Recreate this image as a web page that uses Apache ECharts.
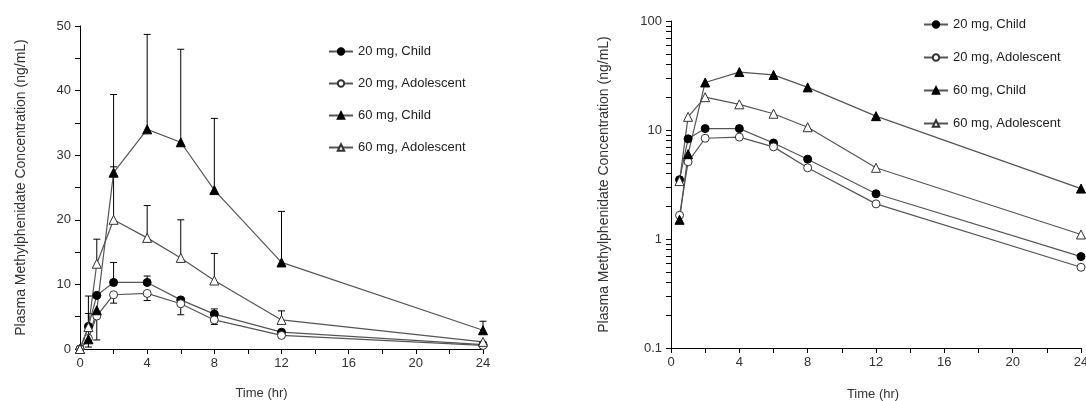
<!DOCTYPE html>
<html>
<head>
  <meta charset="utf-8">
  <title>Methylphenidate concentration</title>
  <script src="https://cdn.jsdelivr.net/npm/echarts@6/dist/echarts.min.js"></script>
  <style>
    html, body { margin: 0; padding: 0; background: #fff; }
  </style>
</head>
<body>
  <div id="main" style="width: 1086px;height:401px;"></div>

  <script>
    // sampling times (hr)
    const times = [0, 0.5, 1, 2, 4, 6, 8, 12, 24];

    // mean concentrations (ng/mL)
    const child20 = [0, 3.5, 8.3, 10.3, 10.3, 7.6, 5.4, 2.6, 0.69];
    const adol20  = [0, 1.65, 5.1, 8.4, 8.6, 7.0, 4.5, 2.1, 0.55];
    const child60 = [0, 1.5, 6.0, 27.3, 34.0, 32.0, 24.6, 13.4, 2.9];
    const adol60  = [0, 3.4, 13.2, 20.0, 17.2, 14.1, 10.6, 4.5, 1.1];

    // error bar ends (left chart only), null = no bar drawn
    const child20Bar = [null, 8.2, null, 13.4, 11.3, null, 6.2, null, null];
    const adol20Bar  = [null, 0.3, 1.4, 7.1, 7.5, 5.3, 3.8, null, null];
    const child60Bar = [null, 5.5, null, 39.4, 48.7, 46.4, 35.7, 21.3, 4.3];
    const adol60Bar  = [null, null, 17.0, 28.2, 22.2, 20.0, 14.8, 5.9, null];

    const names = ["20 mg, Child", "20 mg, Adolescent", "60 mg, Child", "60 mg, Adolescent"];

    // tick labels
    const linYLabels = [0, 10, 20, 30, 40, 50];
    const xLabels = [0, 4, 8, 12, 16, 20, 24];
    const logTicks = [0.1, 0.2, 0.3, 0.4, 0.5, 0.6, 0.7, 0.8, 0.9,
                      1, 2, 3, 4, 5, 6, 7, 8, 9,
                      10, 20, 30, 40, 50, 60, 70, 80, 90, 100];
    const logLabels = [0.1, 1, 10, 100];

    const FONT = "Liberation Sans, Arial, sans-serif";
    const seriesVals = [child20, adol20, child60, adol60];
    const seriesBars = [child20Bar, adol20Bar, child60Bar, adol60Bar];
    const symbols = ["circle", "circle", "triangle", "triangle"];
    const filled = [true, false, true, false];

    function lineSeries(i, axisIdx, from) {
      return {
        name: names[i],
        type: "line",
        xAxisIndex: axisIdx,
        yAxisIndex: axisIdx,
        data: times.slice(from).map((t, k) => [t, seriesVals[i][k + from]]),
        symbol: symbols[i],
        symbolSize: symbols[i] === "circle" ? 8 : 9,
        showAllSymbol: true,
        lineStyle: { color: "#555", width: 1.2 },
        itemStyle: filled[i]
          ? { color: "#000", borderColor: "#000", borderWidth: 1 }
          : { color: "#fff", borderColor: "#333", borderWidth: 1 },
        z: 3,
        clip: false
      };
    }

    function errSeries(i) {
      const data = [];
      times.forEach((t, k) => {
        if (seriesBars[i][k] != null) data.push([t, seriesVals[i][k], seriesBars[i][k]]);
      });
      return {
        name: "err" + i,
        type: "custom",
        xAxisIndex: 0,
        yAxisIndex: 0,
        data: data,
        encode: { x: 0, y: [1, 2] },
        z: 2,
        renderItem: function (params, api) {
          const p0 = api.coord([api.value(0), api.value(1)]);
          const p1 = api.coord([api.value(0), api.value(2)]);
          const st = { stroke: "#000", lineWidth: 1 };
          return {
            type: "group",
            children: [
              { type: "line", shape: { x1: p0[0], y1: p0[1], x2: p1[0], y2: p1[1] }, style: st },
              { type: "line", shape: { x1: p1[0] - 3.5, y1: p1[1], x2: p1[0] + 3.5, y2: p1[1] }, style: st }
            ]
          };
        }
      };
    }

    const axisLine = { lineStyle: { color: "#000", width: 1 } };
    const axisTick = { length: 5, lineStyle: { color: "#000" } };
    const labelStyle = { color: "#333", fontSize: 13, fontFamily: FONT };
    const nameStyle = { color: "#333", fontSize: 13, fontFamily: FONT };

    function xAxis(grid, padRight, gap) {
      return {
        type: "value",
        gridIndex: grid,
        min: 0, max: 24, interval: 2,
        name: "Time (hr)",
        nameLocation: "middle",
        nameGap: gap,
        nameTextStyle: Object.assign({ padding: [0, padRight, 0, 0] }, nameStyle),
        axisLine: axisLine,
        axisTick: axisTick,
        splitLine: { show: false },
        axisLabel: Object.assign({
          margin: 8,
          formatter: v => (xLabels.indexOf(v) >= 0 ? String(v) : "")
        }, labelStyle)
      };
    }

    const legendBase = {
      orient: "vertical",
      data: names,
      itemWidth: 24,
      itemHeight: 8,
      textStyle: { color: "#222", fontSize: 13, fontFamily: FONT }
    };

    const chart = echarts.init(document.getElementById("main"));
    const option = {
      animation: false,
      backgroundColor: "#fff",
      legend: [
        Object.assign({ left: 323, top: 40, itemGap: 19 }, legendBase),
        Object.assign({ left: 918, top: 13, itemGap: 20 }, legendBase)
      ],
      grid: [
        { left: 80, top: 26, width: 403, height: 323, containLabel: false, outerBoundsMode: "none" },
        { left: 671, top: 21, width: 410, height: 327, containLabel: false, outerBoundsMode: "none" }
      ],
      xAxis: [xAxis(0, 40, 38), xAxis(1, 6, 40)],
      yAxis: [
        {
          type: "value",
          gridIndex: 0,
          min: 0, max: 50, interval: 5,
          name: "Plasma Methylphenidate Concentration (ng/mL)",
          nameLocation: "middle",
          nameGap: 52,
          nameTextStyle: Object.assign({}, nameStyle, { fontSize: 14 }),
          axisLine: Object.assign({ show: true }, axisLine),
          axisTick: axisTick,
          splitLine: { show: false },
          axisLabel: Object.assign({
            margin: 9,
            formatter: v => (linYLabels.indexOf(v) >= 0 ? String(v) : "")
          }, labelStyle)
        },
        {
          type: "log",
          logBase: 10,
          gridIndex: 1,
          min: 0.1, max: 100,
          name: "Plasma Methylphenidate Concentration (ng/mL)",
          nameLocation: "middle",
          nameGap: 60,
          nameTextStyle: Object.assign({}, nameStyle, { fontSize: 14 }),
          axisLine: Object.assign({ show: true }, axisLine),
          axisTick: Object.assign({ customValues: logTicks }, axisTick),
          splitLine: { show: false },
          axisLabel: Object.assign({
            margin: 9,
            customValues: logLabels,
            formatter: v => String(v)
          }, labelStyle)
        }
      ],
      series: [
        errSeries(0), errSeries(1), errSeries(2), errSeries(3),
        lineSeries(0, 0, 0), lineSeries(1, 0, 0), lineSeries(2, 0, 0), lineSeries(3, 0, 0),
        lineSeries(0, 1, 1), lineSeries(1, 1, 1), lineSeries(2, 1, 1), lineSeries(3, 1, 1)
      ]
    };
    chart.setOption(option);
  </script>
</body>
</html>
